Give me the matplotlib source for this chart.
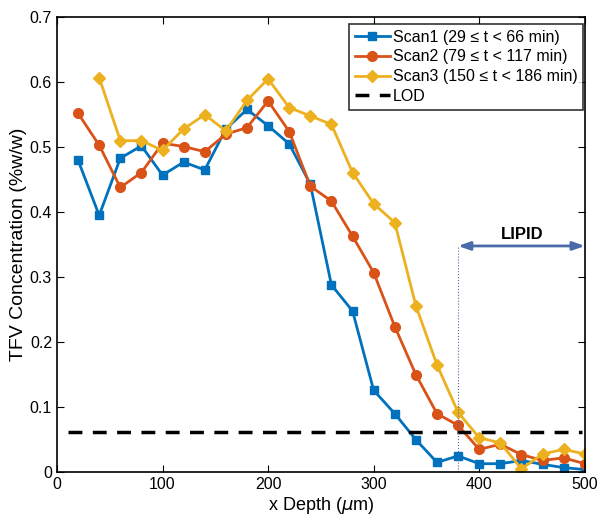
import matplotlib
matplotlib.use('Agg')
from matplotlib import pyplot as plt

depth = [20, 40, 60, 80, 100, 120, 140, 160, 180, 200, 220, 240, 260,
         280, 300, 320, 340, 360, 380, 400, 420, 440, 460, 480, 500]
scan1 = [0.480, 0.395, 0.483, 0.502, 0.457, 0.477, 0.465, 0.528, 0.558,
         0.533, 0.505, 0.443, 0.288, 0.248, 0.126, 0.090, 0.050, 0.015,
         0.025, 0.013, 0.013, 0.018, 0.012, 0.007, 0.004]
scan2 = [0.552, 0.503, 0.438, 0.461, 0.506, 0.501, 0.493, 0.520, 0.530,
         0.571, 0.524, 0.440, 0.417, 0.363, 0.307, 0.224, 0.150, 0.090,
         0.072, 0.035, 0.043, 0.027, 0.018, 0.022, 0.013]
depth3 = depth[1:]
scan3 = [0.607, 0.510, 0.510, 0.495, 0.528, 0.550, 0.525, 0.572, 0.605,
         0.561, 0.548, 0.535, 0.461, 0.413, 0.384, 0.256, 0.165, 0.092,
         0.053, 0.045, 0.005, 0.028, 0.035, 0.028]
lod = 0.062
lipid_start, lipid_end, lipid_y = 380, 500, 0.348

plt.rcParams['font.family'] = ['Liberation Sans', 'DejaVu Sans']
fig = plt.figure(figsize=(6.06, 5.2), dpi=100)
ax = fig.add_axes([0.094, 0.092, 0.871, 0.875])

ax.plot(depth, scan1, '-s', color='#0072BD', lw=2, ms=6,
        label='Scan1 (29 \u2264 t < 66 min)')
ax.plot(depth, scan2, '-o', color='#D95319', lw=2, ms=7,
        label='Scan2 (79 \u2264 t < 117 min)')
ax.plot(depth3, scan3, '-D', color='#EDB120', lw=2, ms=6,
        label='Scan3 (150 \u2264 t < 186 min)')
ax.axhline(lod, xmin=0.02, xmax=0.995, color='black', lw=2.5, ls=(0, (4, 3)), label='LOD')

# lipid region marker
ax.plot([lipid_start, lipid_start], [0, lipid_y], color='#4a6aa8', lw=0.8, ls=':')
ax.annotate('', xy=(lipid_start, lipid_y), xytext=(lipid_end, lipid_y),
            arrowprops=dict(arrowstyle='<|-|>,head_length=0.7,head_width=0.25',
                            color='#4a6aa8', lw=2, shrinkA=0, shrinkB=0))
ax.text(441, 0.366, 'LIPID', ha='center', va='center', fontsize=12, fontweight='bold')

ax.set_xlim(0, 500)
ax.set_ylim(0, 0.7)
ax.set_xticks([0, 100, 200, 300, 400, 500])
ax.set_yticks([0, 0.1, 0.2, 0.3, 0.4, 0.5, 0.6, 0.7])
ax.set_yticklabels(['0', '0.1', '0.2', '0.3', '0.4', '0.5', '0.6', '0.7'])
ax.tick_params(direction='in', labelsize=11.5, top=True, right=True, length=5)
for s in ax.spines.values():
    s.set_linewidth(1.2)
ax.set_xlabel('x Depth ($\\mu$m)', fontsize=13, labelpad=2)
ax.set_ylabel('TFV Concentration (%w/w)', fontsize=14, labelpad=2)

leg = ax.legend(loc='upper right', fontsize=11.5, fancybox=False, edgecolor='black',
                handlelength=2.2, handletextpad=0.2, borderpad=0.35, labelspacing=0.3,
                borderaxespad=0, bbox_to_anchor=(0.997, 0.985))
leg.get_frame().set_linewidth(1.2)

fig.savefig('out.png', dpi=100)
